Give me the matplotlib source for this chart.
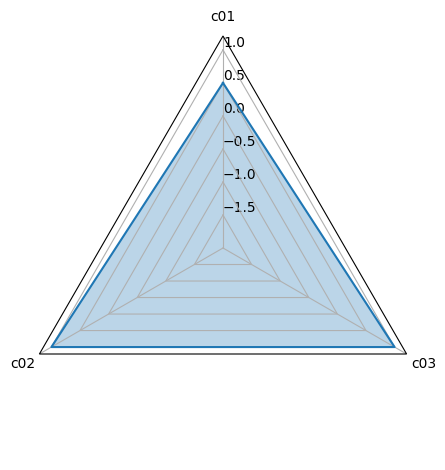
import numpy as np
import matplotlib
matplotlib.use("Agg")
import matplotlib.pyplot as plt
from matplotlib.patches import RegularPolygon
from matplotlib.path import Path
from matplotlib.projections import register_projection
from matplotlib.projections.polar import PolarAxes
from matplotlib.spines import Spine
from matplotlib.transforms import Affine2D

labels = ["c01", "c02", "c03"]
values = [0.5, 1.0, 1.0]
r_ticks = [-1.5, -1.0, -0.5, 0.0, 0.5, 1.0]


def radar_factory(num_vars):
    theta = np.linspace(0, 2 * np.pi, num_vars, endpoint=False)

    class RadarTransform(PolarAxes.PolarTransform):
        def transform_path_non_affine(self, path):
            # gridlines become polygons instead of circles
            if path._interpolation_steps > 1:
                path = path.interpolated(num_vars)
            return Path(self.transform(path.vertices), path.codes)

    class RadarAxes(PolarAxes):
        name = "radar"
        PolarTransform = RadarTransform

        def __init__(self, *args, **kwargs):
            super().__init__(*args, **kwargs)
            self.set_theta_zero_location("N")

        def fill(self, *args, closed=True, **kwargs):
            return super().fill(closed=closed, *args, **kwargs)

        def plot(self, *args, **kwargs):
            lines = super().plot(*args, **kwargs)
            for line in lines:
                x, y = line.get_data()
                if x[0] != x[-1]:
                    line.set_data(np.append(x, x[0]), np.append(y, y[0]))
            return lines

        def set_varlabels(self, labels):
            self.set_thetagrids(np.degrees(theta), labels)

        def _gen_axes_patch(self):
            return RegularPolygon((0.5, 0.5), num_vars, radius=0.5, edgecolor="k")

        def _gen_axes_spines(self):
            spine = Spine(axes=self, spine_type="circle",
                          path=Path.unit_regular_polygon(num_vars))
            spine.set_transform(Affine2D().scale(0.5).translate(0.5, 0.5) + self.transAxes)
            return {"polar": spine}

    register_projection(RadarAxes)
    return theta


theta = radar_factory(len(labels))

fig = plt.figure(figsize=(4.45, 4.7), dpi=100)
ax = fig.add_axes([11 / 445, 10 / 470, 424 / 445, 424 / 470], projection="radar")
ax.plot(theta, values, color="C0", lw=1.5)
ax.fill(theta, values, facecolor="C0", alpha=0.3)
ax.set_varlabels(labels)
ax.set_ylim(-2.0, 1.21)
ax.set_rgrids(r_ticks)
ax.set_rlabel_position(0)

fig.savefig("out.png", dpi=100)
